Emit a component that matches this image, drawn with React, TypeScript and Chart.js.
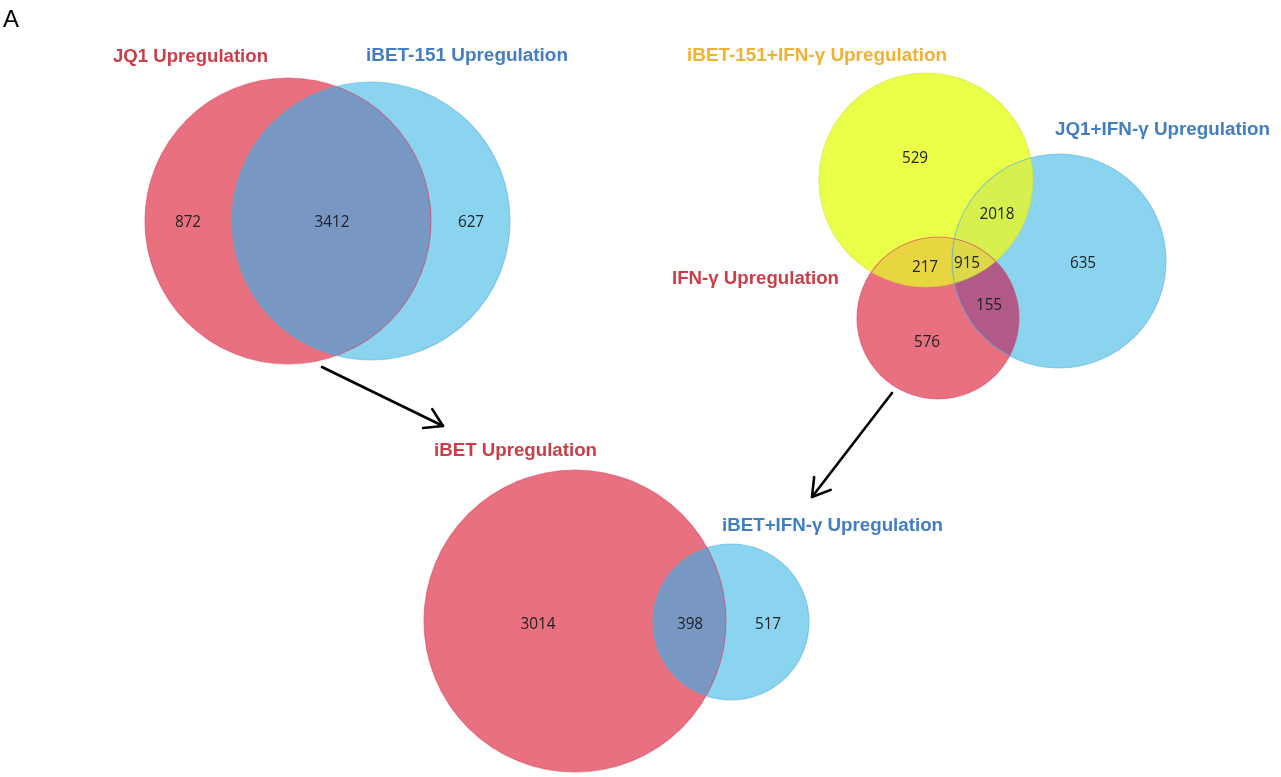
import React, { useEffect, useRef } from 'react';
import { Chart, registerables } from 'chart.js';
Chart.register(...registerables);

const W = 1281;
const H = 777;

// ---- Data: set names and region counts ----
const leftSetNames = ['JQ1 Upregulation', 'iBET-151 Upregulation'];
const leftRegionCounts = [872, 3412, 627]; // JQ1 only, both, iBET-151 only
const rightSetNames = ['iBET-151+IFN-γ Upregulation', 'JQ1+IFN-γ Upregulation', 'IFN-γ Upregulation'];
const rightRegionCounts = [529, 2018, 635, 217, 915, 155, 576];
const bottomSetNames = ['iBET Upregulation', 'iBET+IFN-γ Upregulation'];
const bottomRegionCounts = [3014, 398, 517];
const panelLetter = 'A';

// ---- Layout (circle geometry in pixel-valued axis units) ----
// order: JQ1, iBET-151, JQ1+IFN, IFN, iBET-151+IFN, iBET, iBET+IFN
const circleNames = [leftSetNames[0], leftSetNames[1], rightSetNames[1], rightSetNames[2], rightSetNames[0], bottomSetNames[0], bottomSetNames[1]];
const circleCX = [288, 371, 1059, 938, 926, 575, 731];
const circleCY = [221, 221, 261, 318, 180, 621, 622];
const circleR = [143, 139, 107, 81, 107, 151, 78];
const circleFill = ['#E8707F', '#8AD4F0', '#8AD4F0', '#E8707F', '#EAFF48', '#E8707F', '#8AD4F0'];
const circleEdge = ['rgba(215,70,100,0.55)', 'rgba(80,175,220,0.55)', 'rgba(80,175,220,0.55)', 'rgba(215,70,100,0.55)', 'rgba(205,225,40,0.5)', 'rgba(215,70,100,0.55)', 'rgba(80,175,220,0.55)'];

// intersections: circle indices, colour
const overlapSets = [[0, 1], [4, 2], [4, 3], [3, 2], [4, 3, 2], [5, 6]];
const overlapColors = ['#7898C3', '#D7F04E', '#E8D640', '#B15A87', '#DCD847', '#7898C3'];

// count label positions
const countValues = [...leftRegionCounts, ...rightRegionCounts, ...bottomRegionCounts];
const countX = [188, 332, 471, 915, 997, 1083, 925, 967, 989, 927, 538, 690, 768];
const countY = [222, 222, 222, 158, 214, 263, 267, 263, 305, 342, 624, 624, 624];

// titles
const titleTexts = [leftSetNames[0], leftSetNames[1], rightSetNames[0], rightSetNames[1], rightSetNames[2], bottomSetNames[0], bottomSetNames[1]];
const titleX = [113, 366, 687, 1055, 672, 434, 722];
const titleY = [57, 56, 56, 130, 279, 451, 526];
const titleW = [155, 202, 260, 215, 167, 163, 221];
const titleColor = ['#CC3D48', '#437EC0', '#F0B232', '#437EC0', '#CC3D48', '#CC3D48', '#437EC0'];

// arrows: start, tip
const arrowStartX = [322, 892];
const arrowStartY = [367, 393];
const arrowTipX = [443, 812];
const arrowTipY = [426, 497];

const vennPlugin = {
  id: 'vennDecor',
  afterDatasetsDraw(chart: any) {
    const ctx: CanvasRenderingContext2D = chart.ctx;
    const xs = chart.scales.x;
    const ys = chart.scales.y;
    const circ = (i: number) => {
      const el: any = chart.getDatasetMeta(i).data[0];
      return { x: el.x, y: el.y, r: el.options.radius };
    };
    const path = (c: any) => {
      ctx.beginPath();
      ctx.arc(c.x, c.y, c.r, 0, Math.PI * 2);
    };
    // intersections
    overlapSets.forEach((set, k) => {
      ctx.save();
      for (let j = 0; j < set.length - 1; j++) {
        path(circ(set[j]));
        ctx.clip();
      }
      path(circ(set[set.length - 1]));
      ctx.fillStyle = overlapColors[k];
      ctx.fill();
      ctx.restore();
    });
    // outlines
    circleR.forEach((_, i) => {
      ctx.save();
      path(circ(i));
      ctx.strokeStyle = circleEdge[i];
      ctx.lineWidth = 1.2;
      ctx.stroke();
      ctx.restore();
    });
    // counts
    ctx.save();
    ctx.fillStyle = '#222222';
    ctx.font = '17px "Open Sans"';
    ctx.textAlign = 'center';
    ctx.textBaseline = 'middle';
    countValues.forEach((v, i) => {
      const px = xs.getPixelForValue(countX[i]);
      const py = ys.getPixelForValue(countY[i]);
      const t = String(v);
      ctx.save();
      ctx.translate(px, py);
      ctx.scale(0.9, 1);
      ctx.fillText(t, 0, 0);
      ctx.restore();
    });
    ctx.restore();
    // titles
    ctx.save();
    ctx.font = 'bold 18px "Liberation Sans", Arial, sans-serif';
    ctx.textAlign = 'left';
    ctx.textBaseline = 'middle';
    titleTexts.forEach((t, i) => {
      const px = xs.getPixelForValue(titleX[i]);
      const py = ys.getPixelForValue(titleY[i]);
      const w = ctx.measureText(t).width;
      ctx.save();
      ctx.translate(px, py);
      ctx.scale(titleW[i] / w, 1);
      ctx.fillStyle = titleColor[i];
      ctx.fillText(t, 0, 0);
      ctx.restore();
    });
    ctx.restore();
    // panel letter
    ctx.save();
    ctx.font = '24px "Liberation Sans", Arial, sans-serif';
    ctx.fillStyle = '#000';
    ctx.textBaseline = 'alphabetic';
    ctx.fillText(panelLetter, xs.getPixelForValue(3), ys.getPixelForValue(27));
    ctx.restore();
    // arrows
    ctx.save();
    ctx.strokeStyle = '#000';
    ctx.lineWidth = 2.6;
    ctx.lineCap = 'round';
    ctx.lineJoin = 'round';
    arrowStartX.forEach((_, i) => {
      const x0 = xs.getPixelForValue(arrowStartX[i]);
      const y0 = ys.getPixelForValue(arrowStartY[i]);
      const x1 = xs.getPixelForValue(arrowTipX[i]);
      const y1 = ys.getPixelForValue(arrowTipY[i]);
      ctx.beginPath();
      ctx.moveTo(x0, y0);
      ctx.lineTo(x1, y1);
      ctx.stroke();
      const ang = Math.atan2(y1 - y0, x1 - x0);
      const hl = 20;
      const spread = 0.55;
      ctx.beginPath();
      ctx.moveTo(x1 - hl * Math.cos(ang - spread), y1 - hl * Math.sin(ang - spread));
      ctx.lineTo(x1, y1);
      ctx.lineTo(x1 - hl * Math.cos(ang + spread), y1 - hl * Math.sin(ang + spread));
      ctx.stroke();
    });
    ctx.restore();
  },
};

export default function App() {
  const ref = useRef<HTMLCanvasElement>(null);
  useEffect(() => {
    if (!ref.current) return;
    const chart = new Chart(ref.current, {
      type: 'bubble',
      data: {
        datasets: circleNames.map((name, i) => ({
          label: name,
          data: [{ x: circleCX[i], y: circleCY[i], r: circleR[i] }],
          backgroundColor: circleFill[i],
          borderWidth: 0,
          hoverRadius: 0,
          clip: false as any,
        })),
      },
      options: {
        animation: false,
        responsive: false,
        devicePixelRatio: 1,
        layout: { padding: 0, autoPadding: false },
        events: [],
        scales: {
          x: { type: 'linear', min: 0, max: W, display: false },
          y: { type: 'linear', min: 0, max: H, reverse: true, display: false },
        },
        plugins: { legend: { display: false }, tooltip: { enabled: false } },
      },
      plugins: [vennPlugin],
    });
    return () => chart.destroy();
  }, []);
  return (
    <div style={{ position: 'fixed', left: 0, top: 0, width: W, height: H, background: '#fff' }}>
      <canvas ref={ref} width={W} height={H} style={{ display: 'block' }} />
    </div>
  );
}
